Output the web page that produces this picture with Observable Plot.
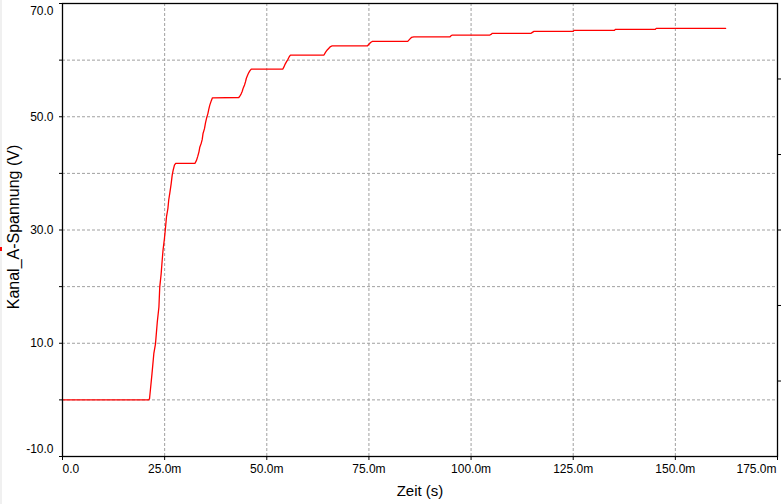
<!DOCTYPE html>
<html>
<head>
<meta charset="utf-8">
<script src="https://cdn.jsdelivr.net/npm/d3@7"></script>
<script src="https://cdn.jsdelivr.net/npm/@observablehq/plot@0.6"></script>
<style>
  html, body { margin: 0; padding: 0; background: #fff; }
  #wrap { position: relative; width: 781px; height: 504px; overflow: hidden; }
  #strip { position: absolute; left: 0; top: 0; width: 2px; height: 504px; background: #f0f0f0; }
  #marker { position: absolute; left: 0; top: 247px; width: 2px; height: 4px; background: #ff0000; }
  svg { display: block; }
</style>
</head>
<body>
<div id="wrap"><div id="strip"></div><div id="marker"></div></div>
<script>
// time in milliseconds
const timeMs = [0, 21.1, 21.3, 21.5, 21.9, 22.35, 22.76, 23.2, 23.6, 23.8, 24.15, 24.4, 24.6, 24.95, 25.2, 25.45, 25.8, 26.0, 26.3, 26.6, 26.85, 27.1, 27.4, 27.7, 32.4, 32.8, 33.1, 33.4, 33.6, 33.95, 34.2, 34.4, 34.75, 35.0, 35.25, 35.6, 35.8, 36.05, 36.4, 36.7, 43.15, 43.4, 43.7, 44.0, 44.2, 44.55, 44.8, 45.0, 45.35, 45.6, 45.85, 46.2, 53.9, 54.2, 54.5, 54.8, 55.15, 55.5, 55.8, 64.0, 64.4, 64.8, 65.2, 65.6, 66.0, 74.6, 75.0, 75.4, 75.8, 84.5, 85.0, 85.4, 86.0, 94.8, 95.1, 95.4, 104.6, 105.0, 105.2, 114.7, 115.0, 115.4, 125.0, 125.2, 135.1, 135.3, 145.1, 145.3, 162.3];
// channel A voltage (V)
const voltage = [0, 0, 0.2, 1.66, 4.6, 8.15, 9.9, 13.75, 16.4, 19.9, 22.3, 24.65, 26.4, 28.5, 30.3, 32.3, 33.8, 35.3, 36.7, 38.2, 39.7, 40.6, 41.45, 41.75, 41.75, 42.3, 43.0, 43.8, 44.6, 45.3, 46.0, 47.05, 47.9, 48.9, 49.7, 50.6, 51.3, 52.05, 52.8, 53.35, 53.4, 53.65, 54.0, 54.5, 55.0, 55.6, 56.2, 56.8, 57.4, 57.8, 58.1, 58.4, 58.4, 58.8, 59.3, 59.7, 60.1, 60.6, 60.9, 60.9, 61.4, 61.8, 62.1, 62.4, 62.5, 62.5, 62.8, 63.1, 63.3, 63.3, 63.7, 64.0, 64.1, 64.1, 64.3, 64.43, 64.43, 64.6, 64.73, 64.73, 64.9, 65.08, 65.08, 65.26, 65.26, 65.44, 65.44, 65.6, 65.6];

const xTicks = [0, 25, 50, 75, 100, 125, 150, 175];
const xTickLabels = ["0.0", "25.0m", "50.0m", "75.0m", "100.0m", "125.0m", "150.0m", "175.0m"];
const yLabelTicks = [-10, 10, 30, 50, 70];
const yTickLabels = ["-10.0", "10.0", "30.0", "50.0", "70.0"];
const yMinorTicks = [-10, 0, 10, 20, 30, 40, 50, 60, 70];
const rightTicks = [3.33, 16.67, 30, 43.33, 56.67];
const xTitle = "Zeit (s)";
const yTitle = "Kanal_A-Spannung (V)";

const data = timeMs.map((t, i) => ({t, v: voltage[i]}));
const xLab = xTicks.map((x, i) => ({x, label: xTickLabels[i]}));
const yLab = yLabelTicks.map((y, i) => ({y, label: yTickLabels[i]}));

const font = "'Liberation Sans', Arial, sans-serif";
const gridStyle = {stroke: "#a0a0a0", strokeOpacity: 1, strokeDasharray: "3,2"};

const chart = Plot.plot({
  width: 781,
  height: 504,
  marginLeft: 62,
  marginRight: 4,
  marginTop: 3,
  marginBottom: 48,
  style: {fontFamily: font, background: "transparent", color: "black"},
  x: {domain: [0, 175], axis: null},
  y: {domain: [-10, 70], axis: null},
  marks: [
    Plot.gridX(xTicks.slice(1, -1), gridStyle),
    Plot.gridY(yMinorTicks.slice(1, -1), gridStyle),
    Plot.axisX(xTicks, {anchor: "bottom", tickSize: 4, tickFormat: () => "", stroke: "black", label: null}),
    Plot.axisY(yMinorTicks, {anchor: "left", tickSize: 3, tickFormat: () => "", stroke: "black", label: null}),
    Plot.axisY(rightTicks, {anchor: "right", tickSize: 4, tickFormat: () => "", stroke: "black", label: null}),
    Plot.line(data, {x: "t", y: "v", stroke: "#ff0000", strokeWidth: 1.3}),
    Plot.frame({stroke: "black", strokeWidth: 1.3}),
    // x tick labels
    Plot.text(xLab.slice(0, 1), {x: "x", text: "label", frameAnchor: "bottom", dy: 16, textAnchor: "start", fontSize: 12, fill: "black"}),
    Plot.text(xLab.slice(1, -1), {x: "x", text: "label", frameAnchor: "bottom", dy: 16, textAnchor: "middle", fontSize: 12, fill: "black"}),
    Plot.text(xLab.slice(-1), {x: "x", text: "label", frameAnchor: "bottom", dy: 16, dx: -1, textAnchor: "end", fontSize: 12, fill: "black"}),
    // y tick labels
    Plot.text(yLab.slice(0, 1), {y: "y", text: "label", frameAnchor: "left", dx: -9, dy: -7, textAnchor: "end", fontSize: 12, fill: "black"}),
    Plot.text(yLab.slice(1, -1), {y: "y", text: "label", frameAnchor: "left", dx: -9, textAnchor: "end", fontSize: 12, fill: "black"}),
    Plot.text(yLab.slice(-1), {y: "y", text: "label", frameAnchor: "left", dx: -9, dy: 8, textAnchor: "end", fontSize: 12, fill: "black"}),
    // titles
    Plot.text([xTitle], {frameAnchor: "bottom", dy: 39, textAnchor: "middle", fontSize: 15, fill: "black"}),
    Plot.text([yTitle], {frameAnchor: "left", dx: -49, dy: -3, rotate: -90, textAnchor: "middle", fontSize: 16, fill: "black"})
  ]
});
document.getElementById("wrap").appendChild(chart);
</script>
</body>
</html>
